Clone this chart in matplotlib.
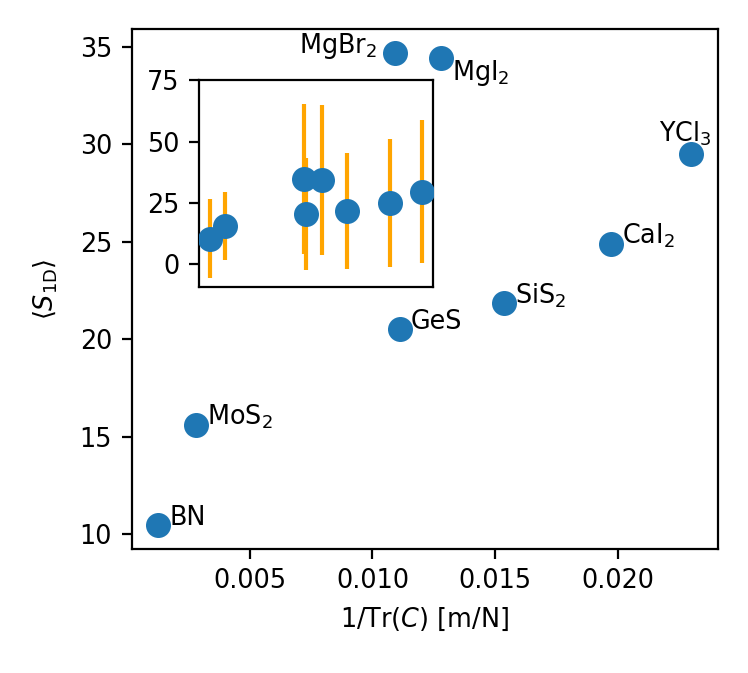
import numpy as np
import matplotlib
matplotlib.use("Agg")
import matplotlib.pyplot as plt

plt.rcParams["font.size"] = 9.2

# materials, x = 1/Tr(C) [m/N], y = <S_1D>, err = spread shown in inset
materials = ["BN", "MoS$_2$", "MgBr$_2$", "GeS", "MgI$_2$", "SiS$_2$", "CaI$_2$", "YCl$_3$"]
inv_trace = [0.00126, 0.00279, 0.01090, 0.01112, 0.01278, 0.01537, 0.01974, 0.02300]
s1d = [10.46, 15.63, 34.69, 20.53, 34.44, 21.84, 24.90, 29.51]
s1d_err = [16.0, 13.9, 30.6, 22.9, 30.6, 23.6, 26.1, 29.1]

# label offsets in points (dx, dy) and alignment
label_pos = {
    "MgBr$_2$": (-6.5, 0, "right", "baseline"),
    "MgI$_2$": (4, 0, "left", "top"),
    "YCl$_3$": (-2, 4.5, "center", "baseline"),
}

fig = plt.figure(figsize=(3.74, 3.365), dpi=200)
ax = fig.add_axes([0.176, 0.1842, 0.7835, 0.7727])

ax.scatter(inv_trace, s1d, s=64, color="tab:blue", zorder=3)
for name, xv, yv in zip(materials, inv_trace, s1d):
    dx, dy, ha, va = label_pos.get(name, (4, 0, "left", "baseline"))
    ax.annotate(name, (xv, yv), xytext=(dx, dy), textcoords="offset points",
                ha=ha, va=va)

ax.set_xticks([0.005, 0.010, 0.015, 0.020])
ax.set_yticks([10, 15, 20, 25, 30, 35])
ax.set_xlabel(r"1/Tr$(C)$ [m/N]")
ax.set_ylabel(r"$\langle S_{\mathrm{1D}} \rangle$", labelpad=7)

# inset with error bars
axin = fig.add_axes([0.266, 0.574, 0.3124, 0.307])
axin.errorbar(inv_trace, s1d, yerr=s1d_err, fmt="o", ms=8, color="tab:blue",
              ecolor="orange", elinewidth=1.5, zorder=3)
axin.set_xticks([])
axin.set_yticks([0, 25, 50, 75])
axin.set_xlim(ax.get_xlim())

fig.savefig("out.png", dpi=200)
